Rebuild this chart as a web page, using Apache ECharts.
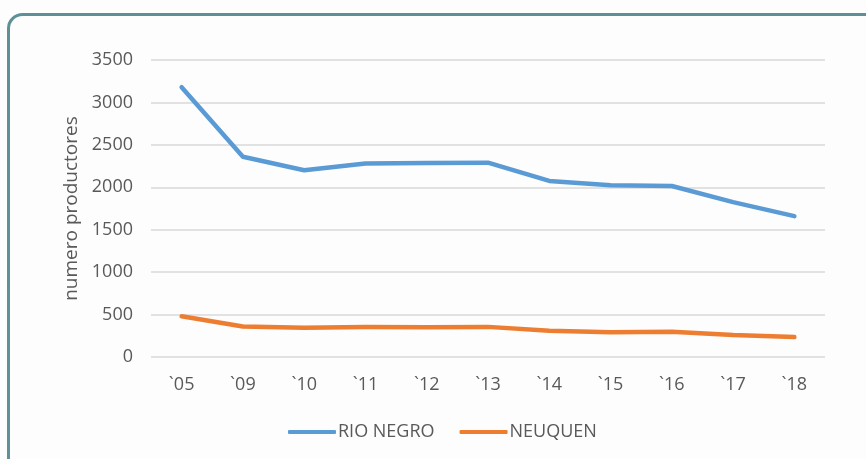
<!DOCTYPE html>
<html>
<head>
<meta charset="utf-8">
<script src="https://cdn.jsdelivr.net/npm/echarts@6/dist/echarts.min.js"></script>
<style>
  html, body { margin: 0; padding: 0; background: #fdfdfd; }
  #main { width: 866px; height: 459px; }
</style>
</head>
<body>
<div id="main"></div>
<script>
var years = ['`05', '`09', '`10', '`11', '`12', '`13', '`14', '`15', '`16', '`17', '`18'];
var rioNegro = [3180, 2360, 2200, 2280, 2285, 2290, 2075, 2025, 2015, 1825, 1660];
var neuquen = [480, 360, 345, 355, 350, 355, 310, 292, 298, 258, 235];

var myChart = echarts.init(document.getElementById('main'));
var font = '"Open Sans", sans-serif';

var option = {
    backgroundColor: '#fdfdfd',
    textStyle: { fontFamily: font },
    graphic: [{
        type: 'rect',
        shape: { x: 8.5, y: 14.5, width: 900, height: 500, r: 14 },
        style: { fill: 'none', stroke: '#5e9197', lineWidth: 3 },
        silent: true
    }],
    grid: { left: 151, right: 41, top: 60, bottom: 102 },
    legend: {
        top: 418,
        left: 283,
        itemWidth: 48,
        itemHeight: 4,
        itemGap: 25,
        icon: 'roundRect',
        textStyle: { fontSize: 18, color: '#595959', fontFamily: font, padding: [0, 0, 0, -3] },
        data: ['RIO NEGRO', 'NEUQUEN']
    },
    xAxis: {
        type: 'category',
        data: years,
        boundaryGap: true,
        axisLine: { show: false },
        axisTick: { show: false },
        axisLabel: { color: '#595959', fontSize: 18, margin: 19, fontFamily: font }
    },
    yAxis: {
        type: 'value',
        min: 0,
        max: 3500,
        interval: 500,
        name: 'numero productores',
        nameLocation: 'middle',
        nameGap: 70,
        nameTextStyle: { color: '#595959', fontSize: 19, fontFamily: font },
        axisLabel: {
            color: '#595959', fontSize: 18, margin: 18, fontFamily: font,
            formatter: function (v) { return String(v); }
        },
        splitLine: { lineStyle: { color: '#d9d9d9', width: 1.5 } }
    },
    series: [{
        name: 'RIO NEGRO',
        type: 'line',
        data: rioNegro,
        symbol: 'none',
        color: '#5b9bd5',
        lineStyle: { width: 4.5, cap: 'round', join: 'round' }
    }, {
        name: 'NEUQUEN',
        type: 'line',
        data: neuquen,
        symbol: 'none',
        color: '#ed7d31',
        lineStyle: { width: 4.5, cap: 'round', join: 'round' }
    }]
};
myChart.setOption(option);
</script>
</body>
</html>
